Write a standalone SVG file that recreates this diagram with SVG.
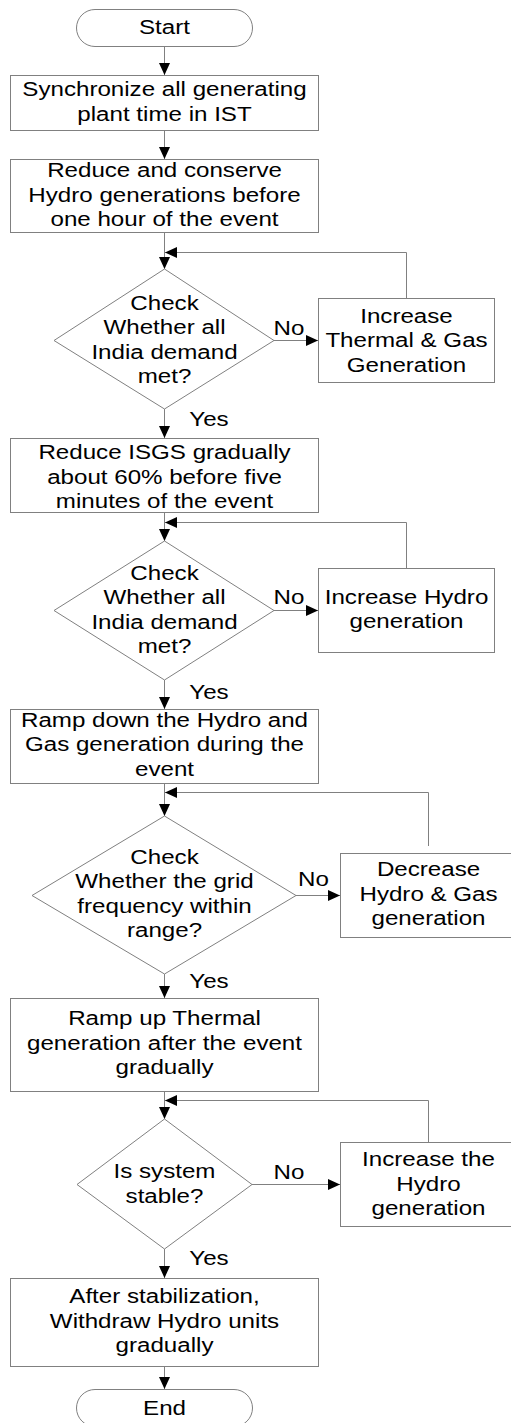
<svg xmlns="http://www.w3.org/2000/svg" width="511" height="1423" viewBox="0 0 511 1423">
<style>
.shape{fill:#fff;stroke:#808080;stroke-width:1}
.conn{fill:none;stroke:#808080;stroke-width:1}
.t{font-family:"Liberation Sans",Arial,sans-serif;font-size:21px;fill:#000;text-anchor:middle}
</style>
<defs>
<marker id="arr" markerUnits="userSpaceOnUse" markerWidth="12" markerHeight="11" refX="12" refY="5.5" orient="auto">
<path d="M0,0 L12,5.5 L0,11 z" fill="#000"/>
</marker>
</defs>
<rect width="511" height="1423" fill="#fff"/>
<g id="connectors">
<path class="conn" d="M164.5,46 V75" marker-end="url(#arr)"/>
<path class="conn" d="M164.5,130 V159" marker-end="url(#arr)"/>
<path class="conn" d="M164.5,233 V269" marker-end="url(#arr)"/>
<path class="conn" d="M406.5,298 V252.5 H165" marker-end="url(#arr)"/>
<path class="conn" d="M274,340.5 H318" marker-end="url(#arr)"/>
<path class="conn" d="M164.5,409 V438" marker-end="url(#arr)"/>
<path class="conn" d="M164.5,512 V541" marker-end="url(#arr)"/>
<path class="conn" d="M406.5,568 V522.5 H165" marker-end="url(#arr)"/>
<path class="conn" d="M274,610.5 H318" marker-end="url(#arr)"/>
<path class="conn" d="M164.5,680 V709" marker-end="url(#arr)"/>
<path class="conn" d="M164.5,783 V816" marker-end="url(#arr)"/>
<path class="conn" d="M428.5,846 V792.5 H165" marker-end="url(#arr)"/>
<path class="conn" d="M296,895.5 H340" marker-end="url(#arr)"/>
<path class="conn" d="M164.5,974 V998" marker-end="url(#arr)"/>
<path class="conn" d="M164.5,1091 V1119" marker-end="url(#arr)"/>
<path class="conn" d="M428.5,1142 V1100.5 H165" marker-end="url(#arr)"/>
<path class="conn" d="M252,1184.5 H340" marker-end="url(#arr)"/>
<path class="conn" d="M164.5,1249 V1278" marker-end="url(#arr)"/>
<path class="conn" d="M164.5,1366 V1389" marker-end="url(#arr)"/>
<text class="t" transform="translate(289 335) scale(1.15 1)">No</text>
<text class="t" transform="translate(209 426) scale(1.15 1)">Yes</text>
<text class="t" transform="translate(289 604) scale(1.15 1)">No</text>
<text class="t" transform="translate(209 699) scale(1.15 1)">Yes</text>
<text class="t" transform="translate(313.5 885.5) scale(1.15 1)">No</text>
<text class="t" transform="translate(209 988) scale(1.15 1)">Yes</text>
<text class="t" transform="translate(289 1178.5) scale(1.15 1)">No</text>
<text class="t" transform="translate(209 1265) scale(1.15 1)">Yes</text>
</g>
<g id="start">
<rect class="shape" x="76.5" y="9.5" width="176" height="37" rx="18.5" ry="18.5"/>
<text class="t" transform="translate(164.5 0) scale(1.15 1)"><tspan x="0" y="34">Start</tspan></text>
</g>
<g id="sync">
<rect class="shape" x="10.5" y="75.5" width="308" height="55"/>
<text class="t" transform="translate(164.5 0) scale(1.15 1)"><tspan x="0" y="96.5">Synchronize all generating</tspan><tspan x="0" y="121.5">plant time in IST</tspan></text>
</g>
<g id="reduce-hydro">
<rect class="shape" x="10.5" y="159.5" width="308" height="73"/>
<text class="t" transform="translate(164.5 0) scale(1.15 1)"><tspan x="0" y="177.5">Reduce and conserve</tspan><tspan x="0" y="202">Hydro generations before</tspan><tspan x="0" y="226.5">one hour of the event</tspan></text>
</g>
<g id="check-demand-1">
<polygon class="shape" points="164.5,269 274,340.5 164.5,409 54,340.5"/>
<text class="t" transform="translate(164.5 0) scale(1.15 1)"><tspan x="0" y="310">Check</tspan><tspan x="0" y="334.5">Whether all</tspan><tspan x="0" y="359">India demand</tspan><tspan x="0" y="383.5">met?</tspan></text>
</g>
<g id="increase-thermal">
<rect class="shape" x="318.5" y="298.5" width="176" height="84"/>
<text class="t" transform="translate(406.5 0) scale(1.15 1)"><tspan x="0" y="323">Increase</tspan><tspan x="0" y="347.5">Thermal &amp; Gas</tspan><tspan x="0" y="372">Generation</tspan></text>
</g>
<g id="reduce-isgs">
<rect class="shape" x="10.5" y="438.5" width="308" height="74"/>
<text class="t" transform="translate(164.5 0) scale(1.15 1)"><tspan x="0" y="459.5">Reduce ISGS gradually</tspan><tspan x="0" y="484">about 60% before five</tspan><tspan x="0" y="508">minutes of the event</tspan></text>
</g>
<g id="check-demand-2">
<polygon class="shape" points="164.5,541 274,610.5 164.5,680 54,610.5"/>
<text class="t" transform="translate(164.5 0) scale(1.15 1)"><tspan x="0" y="580">Check</tspan><tspan x="0" y="604.5">Whether all</tspan><tspan x="0" y="629">India demand</tspan><tspan x="0" y="653.5">met?</tspan></text>
</g>
<g id="increase-hydro">
<rect class="shape" x="318.5" y="568.5" width="176" height="84"/>
<text class="t" transform="translate(406.5 0) scale(1.15 1)"><tspan x="0" y="604">Increase Hydro</tspan><tspan x="0" y="628.5">generation</tspan></text>
</g>
<g id="ramp-down">
<rect class="shape" x="10.5" y="709.5" width="308" height="74"/>
<text class="t" transform="translate(164.5 0) scale(1.15 1)"><tspan x="0" y="727">Ramp down the Hydro and</tspan><tspan x="0" y="751.5">Gas generation during the</tspan><tspan x="0" y="776">event</tspan></text>
</g>
<g id="check-frequency">
<polygon class="shape" points="164.5,816 296,895.5 164.5,974 32,895.5"/>
<text class="t" transform="translate(164.5 0) scale(1.15 1)"><tspan x="0" y="864">Check</tspan><tspan x="0" y="888.5">Whether the grid</tspan><tspan x="0" y="913">frequency within</tspan><tspan x="0" y="937.5">range?</tspan></text>
</g>
<g id="decrease-hydro-gas">
<rect class="shape" x="340.5" y="853.5" width="176" height="84"/>
<text class="t" transform="translate(428.5 0) scale(1.15 1)"><tspan x="0" y="876.5">Decrease</tspan><tspan x="0" y="901">Hydro &amp; Gas</tspan><tspan x="0" y="925.5">generation</tspan></text>
</g>
<g id="ramp-up">
<rect class="shape" x="10.5" y="998.5" width="308" height="93"/>
<text class="t" transform="translate(164.5 0) scale(1.15 1)"><tspan x="0" y="1025.5">Ramp up Thermal</tspan><tspan x="0" y="1050">generation after the event</tspan><tspan x="0" y="1074.5">gradually</tspan></text>
</g>
<g id="check-stable">
<polygon class="shape" points="164.5,1119 252,1184.5 164.5,1249 77,1184.5"/>
<text class="t" transform="translate(164.5 0) scale(1.15 1)"><tspan x="0" y="1178.5">Is system</tspan><tspan x="0" y="1203">stable?</tspan></text>
</g>
<g id="increase-the-hydro">
<rect class="shape" x="340.5" y="1142.5" width="176" height="84"/>
<text class="t" transform="translate(428.5 0) scale(1.15 1)"><tspan x="0" y="1166.5">Increase the</tspan><tspan x="0" y="1191">Hydro</tspan><tspan x="0" y="1215.5">generation</tspan></text>
</g>
<g id="withdraw">
<rect class="shape" x="10.5" y="1278.5" width="308" height="88"/>
<text class="t" transform="translate(164.5 0) scale(1.15 1)"><tspan x="0" y="1303.5">After stabilization,</tspan><tspan x="0" y="1328">Withdraw Hydro units</tspan><tspan x="0" y="1352.5">gradually</tspan></text>
</g>
<g id="end">
<rect class="shape" x="76.5" y="1389.5" width="176" height="37" rx="18.5" ry="18.5"/>
<text class="t" transform="translate(164.5 0) scale(1.15 1)"><tspan x="0" y="1415">End</tspan></text>
</g>
</svg>
